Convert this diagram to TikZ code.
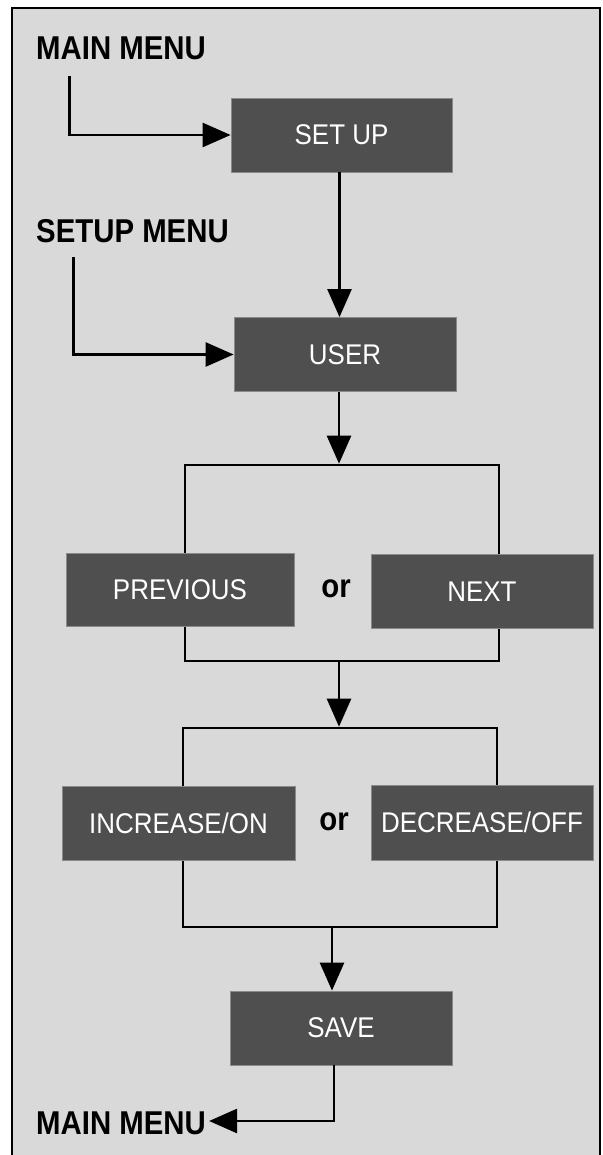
\documentclass[tikz,border=0pt]{standalone}
\usepackage{fontspec}
\setmainfont{Liberation Sans}
\usetikzlibrary{arrows.meta}
\definecolor{bg}{HTML}{D9D9D9}
\definecolor{boxfill}{HTML}{4F4F4F}
\definecolor{boxline}{HTML}{8A8A8A}
\newcommand{\lbltxt}[1]{\scalebox{0.89}[1]{\fontsize{33}{38}\selectfont\bfseries #1}}
\newcommand{\boxtxt}[1]{\scalebox{0.91}[1]{\fontsize{28.5}{32}\selectfont #1}}
\begin{document}
\begin{tikzpicture}[x=1pt,y=-1pt,
  stepbox/.style={rectangle, fill=boxfill, draw=boxline, line width=0.8pt, text=white, inner sep=0pt, minimum height=74pt},
  bracketbox/.style={rectangle, draw=black, line width=2.6pt, inner sep=0pt},
  menutxt/.style={inner sep=0pt, text=black, anchor=west},
  conn/.style={line width=2.6pt, draw=black},
  arr/.style={conn, -{Triangle[length=28pt,width=24pt]}},
]
\useasboundingbox (0,0) rectangle (602,1155);
\draw[fill=bg, line width=2.6pt] (12,8) rectangle (600,1180);

% brackets (drawn first so boxes cover their sides)
\node[bracketbox, minimum width=314pt, minimum height=196pt] (br1) at (342,563) {};
\node[bracketbox, minimum width=314pt, minimum height=199pt] (br2) at (340,827.5) {};

% boxes
\node[stepbox, minimum width=221pt] (setup) at (341.5,135) {\boxtxt{SET UP}};
\node[stepbox, minimum width=222pt] (user) at (345,354.5) {\boxtxt{USER}};
\node[stepbox, minimum width=228pt, minimum height=73pt] (prev) at (180,589.5) {\boxtxt{PREVIOUS}};
\node[stepbox, minimum width=222pt] (next) at (482,591.5) {\boxtxt{NEXT}};
\node[stepbox, minimum width=233pt] (inc) at (178.5,823) {\boxtxt{INCREASE/ON}};
\node[stepbox, minimum width=222pt, minimum height=75pt] (dec) at (482,822.5) {\boxtxt{DECREASE/OFF}};
\node[stepbox, minimum width=222pt] (save) at (341,1028) {\boxtxt{SAVE}};

% or labels
\node[inner sep=0pt] (or1) at (336,589) {\lbltxt{or}};
\node[inner sep=0pt] (or2) at (334,822) {\lbltxt{or}};

% menu labels
\node[menutxt] (mm1) at (36,48.5) {\lbltxt{MAIN MENU}};
\node[menutxt] (sm) at (36,231.5) {\lbltxt{SETUP MENU}};
\node[menutxt] (mm2) at (36,1123) {\lbltxt{MAIN MENU}};

% connectors
\coordinate (c1) at ([shift={(33.5,16)}]mm1.south west);
\draw[arr] (c1) |- (setup.west);
\coordinate (c2) at ([shift={(37.3,13.5)}]sm.south west);
\draw[arr] (c2) |- (user.west);
\draw[arr] ([xshift=-2pt]setup.south) -- ([xshift=-2pt]setup.south |- user.north);
\draw[arr] ([xshift=-6pt]user.south) -- ([xshift=-6pt]user.south |- br1.north);
\draw[arr] ([xshift=-3pt]br1.south) -- ([xshift=-3pt]br1.south |- br2.north);
\draw[arr] ([xshift=-8pt]br2.south) -- ([xshift=-8pt]br2.south |- save.north);
\coordinate (c3) at ([xshift=-7pt]save.south);
\draw[arr] (c3) |- ([xshift=3pt,yshift=2pt]mm2.east);
\end{tikzpicture}
\end{document}
